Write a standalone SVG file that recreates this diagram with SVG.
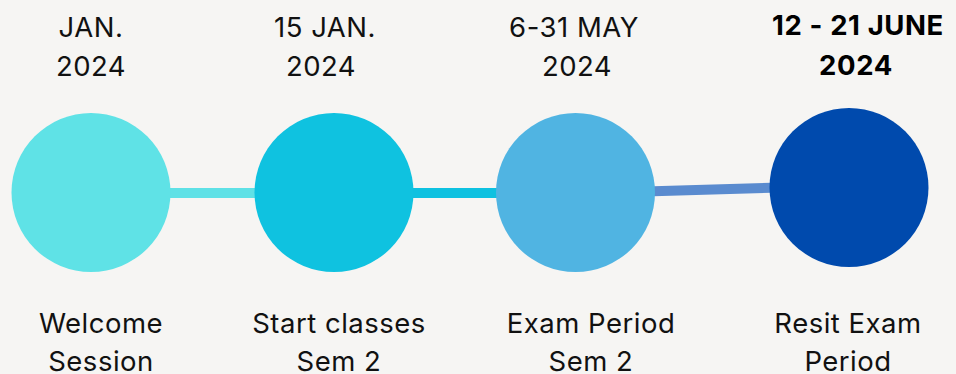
<svg xmlns="http://www.w3.org/2000/svg" width="956" height="374" viewBox="0 0 956 374">
<style>
text{font-family:Inter,"Noto Sans","Liberation Sans",sans-serif;font-size:27.5px;letter-spacing:0.5px;fill:#111;text-anchor:middle}
.b{font-weight:700;fill:#000;letter-spacing:0.6px}
.c{stroke-width:10;fill:none}
</style>
<rect width="956" height="374" fill="#F6F5F3"/>
<g id="connectors">
<line class="c" x1="160" y1="193" x2="265" y2="193" stroke="#5FE1E6"/>
<line class="c" x1="403" y1="193" x2="506" y2="193" stroke="#0EC1E0"/>
<line class="c" x1="645" y1="191.5" x2="780" y2="187.5" stroke="#5A8BCF"/>
</g>
<g id="node1">
<circle cx="91" cy="192.5" r="79.5" fill="#5FE2E6"/>
<text x="91" y="37">JAN.</text>
<text x="91" y="76">2024</text>
<text x="101" y="333">Welcome</text>
<text x="101" y="371">Session</text>
</g>
<g id="node2">
<circle cx="334" cy="192.5" r="79.5" fill="#0FC2E0"/>
<text x="325" y="37">15 JAN.</text>
<text x="321" y="76">2024</text>
<text x="339" y="333">Start classes</text>
<text x="339" y="371">Sem 2</text>
</g>
<g id="node3">
<circle cx="575.5" cy="192.5" r="79.5" fill="#50B4E2"/>
<text x="574" y="37">6-31 MAY</text>
<text x="577" y="76">2024</text>
<text x="591" y="333">Exam Period</text>
<text x="591" y="371">Sem 2</text>
</g>
<g id="node4">
<circle cx="849" cy="187.5" r="79.5" fill="#004AAD"/>
<text class="b" x="858" y="35">12 - 21 JUNE</text>
<text class="b" x="856" y="75">2024</text>
<text x="848" y="333">Resit Exam</text>
<text x="848" y="371">Period</text>
</g>
</svg>
